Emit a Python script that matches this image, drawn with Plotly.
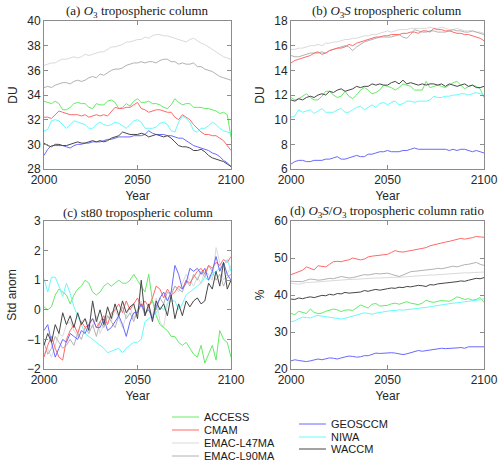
import plotly.graph_objects as go

YEARS = list(range(2000, 2101, 2))
MODELS = ["ACCESS", "CMAM", "EMAC-L47MA", "EMAC-L90MA", "GEOSCCM", "NIWA", "WACCM"]
COLORS = ["rgb(100,236,100)", "rgb(255,105,105)", "rgb(218,218,218)", "rgb(178,178,178)",
          "rgb(105,105,255)", "rgb(105,250,250)", "rgb(70,70,70)"]

# (a) O3 tropospheric column [DU]
ACCESS_a = [33.5, 33.4, 33.3, 33.5, 33.3, 32.8, 32.8, 33.0, 33.3, 33.4,
            33.3, 33.3, 33.0, 32.9, 33.3, 33.2, 33.2, 33.5, 33.6, 33.4,
            32.9, 33.0, 33.3, 33.1, 33.5, 33.7, 33.4, 33.4, 33.5, 33.3,
            33.3, 33.2, 33.0, 32.9, 33.2, 33.7, 33.4, 33.2, 33.3, 33.3,
            33.0, 33.0, 33.0, 32.9, 32.9, 32.8, 32.7, 32.5, 32.6, 32.4, 30.6]
CMAM_a = [32.2, 32.2, 32.1, 32.4, 32.7, 32.6, 32.5, 32.4, 32.4, 32.4,
          32.3, 32.4, 32.2, 32.3, 32.4, 32.3, 32.4, 32.3, 32.7, 33.0,
          32.9, 32.9, 33.0, 33.0, 33.2, 33.4, 32.9, 32.8, 32.6, 32.7,
          32.8, 32.8, 32.7, 32.6, 32.6, 32.2, 32.0, 32.4, 32.2, 32.0,
          31.6, 31.3, 31.0, 30.8, 30.8, 30.7, 30.7, 30.5, 30.3, 29.9, 29.5]
L47_a = [36.4, 36.5, 36.6, 36.6, 36.8, 36.9, 36.9, 37.0, 37.1, 37.0,
         37.1, 37.3, 37.2, 37.3, 37.4, 37.5, 37.5, 37.7, 37.9, 37.9,
         38.0, 38.1, 38.3, 38.3, 38.4, 38.5, 38.5, 38.7, 38.6, 38.8,
         38.9, 38.9, 38.8, 38.8, 38.7, 38.6, 38.5, 38.4, 38.3, 38.5,
         38.6, 38.4, 38.2, 38.1, 37.9, 37.7, 37.5, 37.3, 37.1, 37.0, 36.9]
L90_a = [34.6, 34.7, 34.6, 34.8, 34.9, 35.0, 35.0, 34.9, 35.1, 35.2,
         35.1, 35.2, 35.4, 35.5, 35.4, 35.7, 35.6, 35.8, 36.0, 36.1,
         36.1, 36.2, 36.4, 36.5, 36.6, 36.6, 36.7, 36.6, 36.7, 36.7,
         36.6, 36.8, 36.9, 36.9, 36.7, 36.7, 36.5, 36.6, 36.5, 36.5,
         36.6, 36.3, 36.3, 36.1, 36.0, 35.9, 35.7, 35.5, 35.4, 35.3, 35.2]
GEOS_a = [29.1, 29.6, 29.9, 29.9, 29.9, 29.9, 29.8, 29.7, 29.9, 30.0,
          30.0, 30.1, 30.1, 30.2, 30.2, 30.2, 30.3, 30.4, 30.4, 30.5,
          30.6, 30.6, 30.6, 30.6, 30.7, 30.7, 30.7, 30.8, 31.1, 30.9,
          30.8, 30.8, 30.8, 30.7, 30.7, 30.6, 30.5, 30.5, 30.3, 30.1,
          29.9, 29.8, 29.7, 29.6, 29.5, 29.3, 29.2, 29.0, 28.7, 28.5, 28.2]
NIWA_a = [31.1, 31.2, 31.9, 32.0, 31.9, 31.6, 31.3, 31.6, 31.9, 31.8,
          31.7, 31.6, 31.3, 31.3, 31.6, 31.8, 31.6, 31.5, 31.6, 31.8,
          31.7, 31.5, 31.3, 31.6, 31.9, 32.0, 31.8, 31.3, 31.3, 31.3,
          31.4, 31.7, 31.8, 31.6, 31.1, 31.0, 31.8, 32.3, 32.1, 31.8,
          31.1, 31.0, 31.3, 31.3, 31.5, 31.8, 31.6, 31.3, 31.1, 31.0, 30.9]
WACCM_a = [30.1, 29.9, 29.8, 30.0, 30.0, 29.9, 29.9, 30.0, 30.1, 30.2,
           30.1, 30.1, 30.2, 30.3, 30.2, 30.3, 30.2, 30.3, 30.5, 30.6,
           30.7, 31.0, 30.9, 30.8, 30.8, 30.8, 30.9, 30.8, 30.6, 30.7,
           30.8, 30.7, 30.6, 30.7, 30.5, 30.2, 29.9, 29.8, 29.8, 29.7,
           29.5, 29.5, 29.6, 29.4, 29.1, 28.9, 28.8, 28.7, 28.6, 28.4, 28.2]

# (b) O3S tropospheric column [DU]
ACCESS_b = [11.8, 11.6, 11.7, 11.9, 12.1, 11.8, 11.6, 11.6, 11.9, 12.3,
            12.3, 12.0, 11.8, 11.9, 12.3, 11.9, 11.7, 12.0, 12.4, 12.6,
            12.4, 12.1, 12.2, 12.4, 12.8, 12.7, 12.6, 12.4, 12.6, 12.9,
            12.8, 12.7, 12.4, 12.4, 12.4, 13.1, 12.6, 12.7, 12.8, 12.7,
            12.6, 12.8, 13.0, 13.1, 12.8, 12.5, 12.7, 12.8, 12.7, 12.5, 11.8]
CMAM_b = [14.6, 14.8, 14.9, 15.0, 15.1, 15.2, 15.4, 15.5, 15.3, 15.4,
          15.6, 15.7, 15.8, 15.8, 15.9, 16.1, 16.0, 16.2, 16.3, 16.4,
          16.5, 16.6, 16.7, 16.7, 16.8, 16.8, 16.9, 16.9, 16.9, 17.0,
          17.0, 17.1, 17.1, 17.0, 17.2, 17.2, 17.1, 17.4, 17.3, 17.3,
          17.2, 17.2, 17.1, 17.0, 17.0, 16.9, 16.9, 16.8, 16.7, 16.6, 16.4]
L47_b = [15.7, 15.7, 15.8, 15.8, 15.9, 16.0, 16.0, 16.1, 16.0, 16.2,
         16.2, 16.3, 16.3, 16.4, 16.5, 16.5, 16.6, 16.6, 16.7, 16.8,
         16.8, 16.9, 16.9, 17.0, 17.1, 17.2, 17.1, 17.2, 17.3, 17.3,
         17.3, 17.4, 17.4, 17.4, 17.4, 17.4, 17.5, 17.4, 17.4, 17.5,
         17.4, 17.3, 17.3, 17.4, 17.3, 17.2, 17.2, 17.2, 17.1, 17.1, 17.0]
L90_b = [15.2, 15.1, 15.1, 15.2, 15.3, 15.4, 15.4, 15.4, 15.5, 15.4,
         15.6, 15.7, 15.8, 15.9, 16.0, 15.9, 15.6, 15.9, 16.1, 16.3,
         16.4, 16.5, 16.6, 16.7, 16.7, 16.7, 16.7, 16.8, 16.9, 16.7,
         16.6, 16.9, 17.3, 17.2, 17.1, 17.1, 17.2, 17.2, 17.1, 17.1,
         17.1, 17.2, 17.3, 17.2, 17.2, 17.1, 17.1, 17.2, 17.1, 17.0, 16.9]
GEOS_b = [6.4, 6.6, 6.7, 6.7, 6.6, 6.6, 6.7, 6.7, 6.7, 6.8,
          6.8, 6.9, 7.0, 6.8, 6.8, 6.9, 7.0, 7.1, 7.0, 7.0,
          7.2, 7.2, 7.3, 7.4, 7.4, 7.5, 7.4, 7.4, 7.4, 7.5,
          7.5, 7.6, 7.7, 7.6, 7.6, 7.6, 7.6, 7.6, 7.6, 7.6,
          7.6, 7.5, 7.6, 7.5, 7.6, 7.6, 7.5, 7.4, 7.5, 7.4, 7.3]
NIWA_b = [10.2, 10.3, 10.8, 10.6, 10.7, 10.8, 10.5, 10.7, 10.9, 10.6,
          10.6, 10.6, 10.8, 10.9, 10.6, 10.6, 10.8, 11.0, 11.1, 10.8,
          11.0, 11.2, 11.0, 11.3, 11.4, 11.2, 11.4, 11.5, 11.2, 11.3,
          11.5, 11.5, 11.4, 11.5, 11.5, 11.5, 11.6, 11.9, 11.8, 11.8,
          11.9, 11.9, 12.0, 12.0, 12.1, 12.1, 12.0, 12.1, 12.2, 12.1, 12.0]
WACCM_b = [11.6, 11.5, 11.7, 11.6, 11.8, 11.9, 11.8, 12.0, 12.1, 12.0,
           12.3, 12.2, 12.4, 12.5, 12.3, 12.4, 12.5, 12.7, 12.6, 12.7,
           12.7, 12.9, 12.8, 12.9, 12.8, 12.8, 13.0, 13.1, 12.9, 13.2,
           12.9, 13.0, 12.9, 12.8, 12.9, 12.8, 12.9, 12.9, 12.8, 12.9,
           12.7, 12.9, 12.8, 12.7, 12.8, 12.9, 12.7, 12.8, 12.6, 12.6, 12.7]

# (c) st80 tropospheric column [Std anom]
ACCESS_c = [0.1, 0.0, 0.1, 0.5, 0.7, 0.6, 0.5, 0.2, 0.5, 0.7,
            0.8, 1.0, 0.9, 0.6, 0.5, 0.6, 0.8, 0.9, 0.8, 0.9,
            1.0, 0.9, 0.9, 1.0, 1.2, 1.0, 0.8, 0.6, 1.2, 0.3,
            -0.2, -0.5, -0.6, -0.7, -0.9, -0.9, -1.1, -1.2, -1.1, -1.3,
            -1.5, -1.6, -1.2, -1.8, -1.5, -1.2, -1.7, -0.7, -1.0, -1.1, -1.6]
CMAM_c = [-1.6, -1.2, -0.9, -1.3, -1.6, -1.7, -1.0, -0.7, -0.5, -0.8,
          -0.4, -0.6, -0.5, -0.3, -0.6, -0.4, -0.2, -0.5, -0.1, 0.0,
          0.2, -0.1, 0.3, 0.0, 0.2, 0.4, 0.1, 0.3, 0.1, 0.4,
          0.8, 0.7, 0.4, 0.7, 0.5, 0.6, 0.8, 0.7, 1.0, 0.9,
          1.1, 1.3, 1.4, 1.2, 1.5, 1.4, 1.6, 1.5, 1.7, 1.6, 1.8]
L47_c = [-1.5, -1.3, -1.6, -1.2, -0.8, -0.9, -0.5, -0.4, -0.7, -0.9,
         -0.4, -0.3, -0.5, -0.6, -0.2, -0.8, -0.5, -0.2, -0.4, 0.0,
         -0.3, -0.6, -0.2, 0.1, -0.3, 0.0, 0.3, -0.2, 0.1, -0.2,
         0.4, -0.4, -0.6, 0.2, 0.6, 0.8, 0.6, 0.9, 1.2, 1.0,
         0.8, 1.1, 0.9, 1.3, 1.2, 1.0, 2.1, 1.6, 1.0, 1.2, 1.5]
L90_c = [-1.1, -1.5, -1.3, -0.9, -1.1, -1.3, -1.2, -1.0, -1.2, -0.8,
         -1.0, -0.6, -0.8, -0.5, -0.9, -0.4, -0.6, -0.2, -0.4, -0.6,
         -0.2, 0.1, -0.3, -0.1, -0.4, 0.0, 0.2, -0.2, 0.1, 0.3,
         0.0, 0.4, 0.2, 0.6, 0.5, 0.8, 0.7, 0.6, 1.0, 0.8,
         1.2, 1.0, 1.3, 1.1, 1.5, 1.3, 1.0, 1.2, 0.8, 1.1, 1.2]
GEOS_c = [-0.7, -0.5, -1.1, -1.6, -1.3, -1.0, -1.1, -0.8, -0.9, -1.0,
          -0.7, -0.8, -0.5, -0.3, -0.6, -0.6, -0.3, -0.7, -0.6, -0.4,
          -0.2, -0.5, -0.9, -0.4, -0.1, -0.1, 0.2, -0.1, 0.0, -0.3,
          0.1, 0.4, 0.6, 0.3, 0.6, 1.5, 1.2, 0.7, 0.9, 1.4,
          1.3, 1.4, 1.2, 1.4, 1.0, 1.3, 1.8, 1.3, 1.6, 1.2, 1.0]
NIWA_c = [1.05, 0.6, 1.1, 1.1, 0.8, 0.45, 0.9, 0.55, 0.1, -0.2,
          -0.5, -0.8, -0.9, -1.0, -1.1, -1.2, -1.3, -1.45, -1.4, -1.35,
          -1.3, -1.45, -1.3, -1.2, -1.1, -1.1, -1.0, -0.4, -0.3, -0.2,
          -0.1, 0.1, 0.0, 0.2, 0.3, 0.3, 0.0, 0.2, 0.5, 0.6,
          0.7, 0.8, 0.9, 1.1, 1.0, 1.2, 1.3, 1.4, 1.5, 1.7, 1.3]
WACCM_c = [-1.2, -0.8, -1.1, -0.5, -0.8, -0.1, -0.5, -0.2, -0.6, -0.1,
           -0.5, -0.3, -0.7, 0.3, -0.4, 0.0, -0.5, 0.1, -0.3, 0.2,
           -0.2, 0.3, -0.1, 0.1, 0.2, -0.3, 1.0, -0.2, 0.2, -0.4,
           0.3, 0.0, 0.2, -0.2, 0.5, -0.3, 0.2, -0.2, 0.3, 0.1,
           0.3, 0.4, 0.2, 0.3, 0.9, 0.7, 1.3, 0.8, 1.6, 0.7, 1.0]

# (d) O3S/O3 tropospheric column ratio [%]
ACCESS_d = [35.0, 34.7, 35.6, 35.2, 35.0, 36.2, 35.3, 35.0, 35.1, 35.6,
            36.0, 36.2, 36.0, 35.5, 35.9, 36.0, 35.8, 36.5, 37.3, 36.9,
            36.5, 37.5, 37.7, 37.0, 37.1, 37.2, 37.6, 37.8, 37.5, 37.8,
            38.2, 37.8, 37.5, 37.4, 37.8, 38.6, 38.2, 38.0, 38.3, 38.5,
            38.4, 38.3, 38.8, 39.5, 39.2, 38.8, 39.0, 38.6, 38.8, 39.3, 38.0]
CMAM_d = [45.5, 45.9, 46.3, 46.7, 47.6, 47.3, 46.8, 47.9, 47.8, 47.6,
          48.3, 49.0, 49.1, 49.0, 49.3, 49.5, 50.0, 49.8, 49.5, 49.7,
          50.3, 50.5, 50.6, 50.8, 50.8, 51.0, 51.5, 52.0, 51.7, 51.6,
          51.8, 52.0, 52.2, 52.5, 52.5, 52.8, 53.3, 53.6, 53.8, 54.2,
          54.3, 54.5, 54.7, 55.0, 55.3, 55.1, 55.2, 55.5, 55.8, 55.7, 55.6]
L47_d = [43.2, 43.0, 42.9, 43.1, 43.4, 43.4, 43.5, 43.6, 43.7, 43.6,
         43.8, 43.9, 43.9, 44.0, 44.1, 44.2, 44.2, 44.3, 44.4, 44.4,
         44.5, 44.5, 44.6, 44.6, 44.7, 44.7, 44.8, 44.8, 44.8, 44.9,
         45.0, 45.0, 45.1, 45.2, 45.2, 45.3, 45.4, 45.4, 45.5, 45.6,
         45.6, 45.7, 45.8, 45.8, 45.9, 46.0, 46.0, 46.1, 46.2, 46.2, 46.2]
L90_d = [43.7, 43.6, 43.5, 43.6, 44.0, 44.3, 44.2, 44.0, 44.1, 44.3,
         44.5, 44.4, 44.6, 45.0, 44.8, 44.6, 44.7, 45.0, 45.3, 45.5,
         45.4, 45.6, 45.8, 45.7, 45.8, 45.9, 45.6, 45.3, 45.0, 45.4,
         45.8, 46.3, 46.4, 46.5, 46.6, 46.8, 46.7, 47.0, 47.2, 47.1,
         47.3, 47.5, 47.8, 47.6, 48.0, 48.2, 48.3, 48.6, 48.8, 48.3, 48.0]
GEOS_d = [22.2, 22.5, 22.3, 22.1, 22.0, 22.2, 22.5, 22.7, 22.5, 22.7,
          23.0, 22.9, 22.7, 23.0, 23.3, 23.5, 23.4, 23.2, 23.3, 23.6,
          23.6, 23.9, 24.3, 24.2, 24.3, 24.2, 24.4, 24.3, 24.0, 23.9,
          24.1, 24.4, 24.6, 25.0, 24.8, 25.0, 25.0, 25.2, 25.4, 25.6,
          25.5, 25.5, 25.6, 25.7, 25.8, 25.6, 26.0, 26.0, 26.1, 26.0, 26.0]
NIWA_d = [32.8, 33.0, 33.6, 34.0, 33.9, 33.8, 34.2, 34.5, 34.3, 34.1,
          34.0, 33.8, 33.6, 33.5, 33.7, 34.0, 34.3, 34.6, 35.0, 35.2,
          35.0, 34.8, 35.1, 35.3, 35.6, 35.6, 35.8, 35.8, 36.0, 35.9,
          36.0, 36.3, 36.2, 36.4, 36.4, 36.6, 36.8, 37.0, 37.2, 37.4,
          37.5, 37.7, 37.8, 37.9, 38.0, 38.1, 38.2, 38.3, 38.5, 38.7, 39.0]
WACCM_d = [38.9, 38.8, 39.2, 39.0, 39.3, 39.5, 39.3, 39.7, 39.9, 39.8,
           40.2, 40.0, 40.4, 40.3, 40.7, 40.5, 40.6, 40.9, 40.8, 41.2,
           41.0, 41.3, 41.5, 41.3, 41.6, 41.7, 41.9, 41.8, 42.1, 42.0,
           42.3, 42.2, 42.4, 42.6, 42.5, 42.3, 42.8, 42.7, 43.0, 43.1,
           43.2, 43.4, 43.3, 43.6, 43.8, 43.7, 44.0, 44.2, 44.5, 44.4, 44.7]

PANELS = [
    [ACCESS_a, CMAM_a, L47_a, L90_a, GEOS_a, NIWA_a, WACCM_a],
    [ACCESS_b, CMAM_b, L47_b, L90_b, GEOS_b, NIWA_b, WACCM_b],
    [ACCESS_c, CMAM_c, L47_c, L90_c, GEOS_c, NIWA_c, WACCM_c],
    [ACCESS_d, CMAM_d, L47_d, L90_d, GEOS_d, NIWA_d, WACCM_d],
]
TITLES = ["(a) <i>O</i><sub>3</sub> tropospheric column",
          "(b) <i>O</i><sub>3</sub><i>S</i> tropospheric column",
          "(c) st80 tropospheric column",
          "(d) <i>O</i><sub>3</sub><i>S</i>/<i>O</i><sub>3</sub> tropospheric column ratio"]
YLABELS = ["DU", "DU", "Std anom", "%"]
YRANGES = [[28, 40], [6, 18], [-2, 3], [20, 60]]
YDTICK = [2, 2, 1, 10]
XTICKS = [2000, 2050, 2100]

W, H = 500, 464
XDOM = [[44 / W, 231 / W], [291 / W, 484 / W], [44 / W, 231 / W], [291 / W, 484 / W]]
YDOM = [[1 - 169 / H, 1 - 21 / H], [1 - 169 / H, 1 - 21 / H],
        [1 - 369 / H, 1 - 221 / H], [1 - 369 / H, 1 - 221 / H]]

fig = go.Figure()
draw_order = [2, 3, 0, 1, 5, 4, 6]
for p, series in enumerate(PANELS):
    sfx = "" if p == 0 else str(p + 1)
    for i in draw_order:
        fig.add_trace(go.Scatter(x=YEARS, y=series[i], mode="lines", name=MODELS[i],
                                 line=dict(color=COLORS[i], width=1),
                                 xaxis="x" + sfx, yaxis="y" + sfx, showlegend=False,
                                 hoverinfo="skip"))

LABFONT = dict(family="Liberation Sans, Arial", size=12, color="#262626")
AX = dict(showline=True, mirror="ticks", linecolor="#8c8c8c", linewidth=1, ticks="inside",
          ticklen=4, tickcolor="#8c8c8c", showgrid=False, zeroline=False, automargin=False,
          tickfont=LABFONT)
layout = dict(width=W, height=H, margin=dict(l=0, r=0, t=0, b=0, autoexpand=False),
              paper_bgcolor="white", plot_bgcolor="white", showlegend=False)
annotations = []
for p in range(4):
    sfx = "" if p == 0 else str(p + 1)
    layout["xaxis" + sfx] = dict(AX, domain=XDOM[p], range=[2000, 2100], tickvals=XTICKS,
                                 anchor="y" + sfx,
                                 title=dict(text="Year", standoff=5, font=LABFONT))
    layout["yaxis" + sfx] = dict(AX, domain=YDOM[p], range=YRANGES[p], dtick=YDTICK[p],
                                 tick0=YRANGES[p][0], anchor="x" + sfx,
                                 title=dict(text=YLABELS[p], standoff=7, font=LABFONT))
    annotations.append(dict(text=TITLES[p], xref="paper", yref="paper",
                            x=(XDOM[p][0] + XDOM[p][1]) / 2, y=YDOM[p][1] - 1 / H,
                            xanchor="center", yanchor="bottom", showarrow=False,
                            font=dict(family="Liberation Serif, Times New Roman", size=13, color="#1a1a1a")))

# manual two-column legend
shapes = []
leg_pos = [(172, 417), (172, 430), (172, 443), (172, 456), (299, 424), (299, 437), (299, 449)]
for i, (lx, ly) in enumerate(leg_pos):
    shapes.append(dict(type="line", xref="paper", yref="paper",
                       x0=lx / W, x1=(lx + 27) / W, y0=1 - ly / H, y1=1 - ly / H,
                       line=dict(color=COLORS[i], width=1)))
    annotations.append(dict(text=MODELS[i], xref="paper", yref="paper",
                            x=(lx + 30) / W, y=1 - ly / H, xanchor="left", yanchor="middle",
                            showarrow=False,
                            font=dict(family="Liberation Sans, Arial", size=11, color="#1a1a1a")))
layout["annotations"] = annotations
layout["shapes"] = shapes
fig.update_layout(**layout)
fig.write_html("out.html", config={"displayModeBar": False},
               post_script="document.body.style.margin='0px';document.body.style.padding='0px';")
